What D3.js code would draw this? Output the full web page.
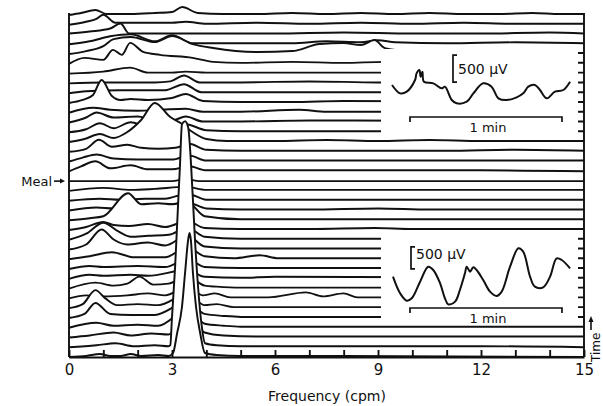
<!DOCTYPE html>
<html lang="en">
  <head>
    <meta charset="UTF-8" />
    <title>Running spectra of gastric myoelectrical activity</title>
    <script src="https://d3js.org/d3.v7.min.js"></script>
    <style>
      html,
      body {
        margin: 0;
        padding: 0;
        background: #fff;
      }
      svg {
        display: block;
      }
      text {
        font-family: "DejaVu Sans", sans-serif;
        fill: #111;
      }
    </style>
  </head>
  <body>
    <div id="viz"></div>
    <script>
      // one spectrum per minute, back (top) to front (bottom): [frequency cpm, power]
      const spectra = [
        [[0,0],[0.35,2],[0.77,5],[1.1,1],[1.8,1],[2.5,2],[3.0,3],[3.3,8],[3.75,2],[4.5,1],[5.5,1],[6.5,2],[7.5,1],[8.5,2],[9.5,1],[10.5,2],[11.5,1],[12.5,1],[13.5,2],[14.3,1],[15,1]],
        [[0,0],[0.5,3],[0.8,6],[1.0,10],[1.35,2],[2.2,2],[3.0,2],[3.4,3],[4,1],[5.5,2],[7,1],[8.5,2],[10,1],[11.5,2],[13,1],[15,1]],
        [[0,1],[0.6,3],[1.2,6],[1.5,11],[1.75,1],[2.3,1],[3,1],[4,1],[6,1],[8,2],[10,1],[12,1],[14,2],[15,1]],
        [[0,0],[0.6,3],[1.2,8],[1.8,10],[2.5,3],[3.0,9],[3.6,1],[5,1],[6.5,1],[7.5,3],[8.5,2],[9,4],[9.5,2],[11,1],[13,2],[15,1]],
        [[0,0],[0.5,3],[1.0,8],[1.3,15],[1.8,17],[2.5,12],[3.0,18],[3.6,10],[4.2,6],[5.5,2],[6.5,3],[7.3,10],[8.0,11],[8.5,9],[8.9,14],[9.2,6],[10,3],[12,2],[15,1]],
        [[0,0],[0.45,6],[1.0,4],[1.28,14],[1.54,9],[1.78,21],[2.16,12],[2.65,9],[3.6,6],[4.2,2],[5,1],[6.5,2],[8,1],[9.2,2],[15,1]],
        [[0,0],[1.0,2],[1.78,6],[2.3,1],[3,1],[3.4,2],[4,1],[6,1],[8,1],[15,1]],
        [[0,0],[1.0,1],[2.5,1],[2.95,2],[3.35,8],[3.8,1],[5,1],[7,2],[9,1],[15,1]],
        [[0,0],[0.5,2],[1.5,3],[2.8,3],[3.35,9],[3.85,1],[5,1],[7,1],[9,1],[15,1]],
        [[0,0],[0.4,3],[0.7,8],[0.95,23],[1.25,7],[1.5,3],[1.8,4],[2.3,3],[3.0,5],[3.4,9],[3.9,2],[5,1],[6.5,1],[8,2],[15,1]],
        [[0,0],[0.7,5],[1.2,3],[2,2],[2.7,3],[3.4,4],[3.9,1],[5,1],[6.7,3],[7.5,1],[15,1]],
        [[0,0],[0.5,5],[0.8,10],[1.3,5],[2.0,6],[2.4,3],[3.0,2],[3.4,6],[3.9,1],[5,1],[7,2],[15,1]],
        [[0,0],[0.5,3],[0.9,9],[1.3,4],[1.8,10],[2.2,6],[2.8,4],[3.4,8],[4,2],[5,1],[7,1],[15,1]],
        [[0,0],[0.45,3],[0.9,8],[1.3,4],[1.7,10],[2.1,22],[2.5,39],[2.95,25],[3.25,19],[3.6,10],[4.0,3],[4.6,1],[6,1],[7.5,2],[9,1],[10.5,2],[12,1],[13.5,1],[15,1]],
        [[0,0],[0.5,3],[0.87,12],[1.25,5],[1.7,7],[2.1,4],[2.6,3],[3.1,4],[3.5,8],[4.0,2],[5,1],[7,1],[9,1],[11,1],[13,2],[15,1]],
        [[0,0],[0.4,4],[0.8,7],[1.3,3],[2,2],[3,2],[3.5,6],[4,1],[6,1],[8,1],[10,1],[12,1],[15,1]],
        [[0,0],[0.35,5],[0.77,10],[1.2,3],[1.8,6],[2.3,2],[3,2],[3.5,5],[4,1],[6,1],[9,1],[12,1],[15,0]],
        [[0,0],[3.0,0],[3.4,2],[3.8,0],[15,0]],
        [[0,0],[1.0,3],[1.8,1],[2.5,2],[3.4,4],[4,1],[6,1],[9,1],[12,1],[15,1]],
        [[0,0],[0.9,2],[1.5,1],[2.2,2],[2.8,2],[3.45,7],[4,1],[6,1],[9,1],[12,1],[15,1]],
        [[0,0],[0.8,3],[1.3,2],[2,3],[2.6,4],[3.45,8],[4,2],[5,1],[7,1],[9,2],[10.5,1],[15,1]],
        [[0,0],[0.6,2],[1.0,4],[1.72,27],[2.1,16],[2.6,17],[3.0,16],[3.45,18],[3.95,4],[5,1],[9,1],[15,1]],
        [[0,0],[0.5,3],[1.0,8],[1.3,5],[1.75,4],[2.3,6],[2.8,3],[3.45,9],[3.95,2],[5,1],[7,1],[8.9,2],[10,1],[15,1]],
        [[0,0],[0.5,6],[1.0,17],[1.45,8],[1.8,3],[2.3,4],[2.9,5],[3.45,12],[3.95,3],[5,1],[7,1],[9,1],[15,1]],
        [[0,0],[0.5,5],[0.95,20],[1.3,10],[1.7,5],[2.3,7],[2.8,4],[3.45,14],[3.95,3],[5,1],[7,1],[9,1],[15,1]],
        [[0,0],[0.6,3],[1.25,7],[1.9,2],[2.8,2],[3.45,12],[3.95,3],[4.8,1],[5.55,4],[6.1,1],[8,1],[15,1]],
        [[0,0],[0.6,3],[1.0,2],[2.0,3],[2.8,2],[3.45,10],[3.95,2],[5,1],[7,1],[15,1]],
        [[0,0],[0.6,4],[1.0,3],[1.8,4],[2.3,3],[3.45,9],[3.95,2],[5,1],[6,2],[15,1]],
        [[0,0],[0.77,6],[1.3,3],[1.7,5],[2.05,12],[2.45,4],[2.9,5],[3.45,12],[3.95,3],[4.3,2],[5,1],[8,1],[15,1]],
        [[0,0],[0.5,3],[1.0,2],[1.7,3],[2.3,5],[2.8,3],[3.45,12],[3.9,3],[4.25,5],[4.7,1],[5.8,1],[6.9,6],[7.4,2],[8.0,5],[8.4,1],[10,1],[15,1]],
        [[0,0],[0.4,4],[0.77,18],[1.05,10],[1.4,3],[2.0,4],[2.6,3],[3.45,14],[3.95,3],[4.3,4],[4.8,1],[6,1],[8,1],[15,1]],
        [[0,0],[0.45,4],[0.77,15],[1.2,4],[1.8,3],[2.5,3],[3.45,16],[3.95,4],[4.5,2],[5,1],[7,1],[15,1]],
        [[0,0],[0.8,5],[1.3,2],[2,3],[2.6,2],[3.45,18],[3.95,4],[4.5,2],[5,1],[7,1],[9,1],[11,1],[13,1],[15,1]],
        [[0,0],[0.6,2],[1.3,5],[1.8,2],[2.4,4],[2.9,3],[3.45,20],[3.95,5],[4.5,2],[5.5,1],[8,1],[11,1],[14,1],[15,1]],
        [[0,0],[0.8,2],[1.35,4],[1.9,1],[2.5,2],[2.9,1],[2.95,2],[3.0,30],[3.09,80],[3.18,145],[3.23,180],[3.29,223],[3.38,226],[3.47,220],[3.61,147],[3.67,107],[3.76,60],[3.87,20],[3.96,4],[4.3,2],[5,1],[7,1],[9,1],[12,1],[15,0]],
        [[0,0],[0.5,1],[0.9,3],[1.2,1],[1.5,1],[1.8,3],[2.1,1],[2.6,2],[2.9,1],[3.03,4],[3.15,24],[3.29,50],[3.38,84],[3.47,117],[3.51,124],[3.55,117],[3.61,84],[3.7,50],[3.82,24],[3.96,4],[4.3,2],[5,1],[8,1],[15,0]]
      ];
      const mealIndex = 17;

      const xLabels = [0, 3, 6, 9, 12, 15];
      const xTickValues = [0, 1, 2, 3, 4, 5, 6, 7, 8, 9, 10, 11, 12, 13, 14, 15];

      // inset recordings: time (s) and voltage (uV)
      const fastingTime = [0, 3.2, 5.8, 9.1, 9.7, 10.8, 11.3, 12.0, 12.6, 16.3, 19.6, 20.9, 23.6, 25.5, 29.5, 32.1, 36.0, 39.3, 42.0, 45.3, 49.2, 51.8, 53.8, 56.4, 58.4, 61.1, 64.3, 67.6, 70.3];
      const fastingVolt = [278, 123, 154, 370, 494, 556, 432, 524, 339, 309, 216, 247, 0, -62, -31, 123, 309, 247, 31, 0, 49, 123, 247, 278, 185, 31, 154, 185, 339];
      const fastingBar = [7.1, 67.1];
      const fastingBracket = [330, 830];

      const fedTime = [0, 2.8, 5.4, 7.4, 10.7, 13.9, 15.9, 18.6, 20.5, 21.8, 24.5, 26.4, 28.4, 29.1, 30.4, 31.7, 33.0, 35.6, 38.3, 40.9, 42.9, 46.2, 49.5, 51.4, 54.1, 56.0, 59.3, 62.0, 64.6, 66.6, 69.9];
      const fedVolt = [303, -75, -242, -189, 189, 530, 455, 152, -189, -326, -265, 0, 379, 530, 417, 515, 455, 227, -38, -136, -38, 530, 947, 871, 303, 76, 61, 303, 720, 682, 492];
      const fedBar = [6.7, 66.7];
      const fedBracket = [480, 980];

      const width = 603;
      const height = 406;
      const ink = "#111";

      const svg = d3
        .select("#viz")
        .append("svg")
        .attr("width", width)
        .attr("height", height);

      const x = d3.scaleLinear().domain([0, 15]).range([69, 584]);
      const base = d3
        .scaleLinear()
        .domain([0, spectra.length - 1])
        .range([15, 357]);
      const power = d3.scaleLinear().domain([0, 100]).range([0, 100]);

      // hidden-line waterfall: draw back to front, each trace masks the ones behind
      const traces = svg.append("g");
      spectra.forEach((pts, i) => {
        const y0 = base(i);
        const area = d3
          .area()
          .x((d) => x(d[0]))
          .y0(y0)
          .y1((d) => y0 - power(d[1]))
          .curve(d3.curveMonotoneX);
        const line = d3
          .line()
          .x((d) => x(d[0]))
          .y((d) => y0 - power(d[1]))
          .curve(d3.curveMonotoneX);
        traces.append("path").datum(pts).attr("d", area).attr("fill", "#fff");
        traces
          .append("path")
          .datum(pts)
          .attr("d", line)
          .attr("fill", "none")
          .attr("stroke", ink)
          .attr("stroke-width", 1.95)
          .attr("stroke-linejoin", "round");
      });

      // frame lines
      svg
        .append("path")
        .attr("d", `M${x(0)},13V357M${x(15)},13V357`)
        .attr("stroke", ink)
        .attr("stroke-width", 1.9)
        .attr("fill", "none");

      const xAxis = d3
        .axisBottom(x)
        .tickValues(xTickValues)
        .tickSizeInner(-7)
        .tickSizeOuter(0)
        .tickPadding(7)
        .tickFormat((d) => (xLabels.includes(d) ? d : ""));

      const gx = svg
        .append("g")
        .attr("transform", "translate(0,357)")
        .call(xAxis);
      gx.selectAll("path, line").attr("stroke", ink).attr("stroke-width", 1.9);
      gx.selectAll("text")
        .style("font-family", '"DejaVu Sans", sans-serif')
        .style("font-size", "15px")
        .attr("fill", ink);

      svg
        .append("text")
        .attr("x", 327)
        .attr("y", 401)
        .attr("text-anchor", "middle")
        .style("font-size", "14px")
        .text("Frequency (cpm)");

      // meal marker
      const yMeal = base(mealIndex);
      svg
        .append("text")
        .attr("x", 52)
        .attr("y", yMeal + 5)
        .attr("text-anchor", "end")
        .style("font-size", "13px")
        .text("Meal");
      svg
        .append("path")
        .attr("d", `M54,${yMeal}H63`)
        .attr("stroke", ink)
        .attr("stroke-width", 1.6);
      svg
        .append("path")
        .attr("d", `M60,${yMeal - 2.5}L65,${yMeal}L60,${yMeal + 2.5}Z`)
        .attr("fill", ink);

      // time arrow
      svg
        .append("text")
        .attr("transform", "translate(600,362) rotate(-90)")
        .style("font-size", "12px")
        .text("Time");
      svg
        .append("path")
        .attr("d", "M591,330V320")
        .attr("stroke", ink)
        .attr("stroke-width", 1.6);
      svg
        .append("path")
        .attr("d", "M588.5,322L591,316L593.5,322Z")
        .attr("fill", ink);

      function drawInset(cfg) {
        const g = svg.append("g");
        g.append("rect")
          .attr("x", 381)
          .attr("y", cfg.top)
          .attr("width", 197)
          .attr("height", cfg.bottom - cfg.top)
          .attr("fill", "#fff");

        const t = d3.scaleLinear().domain([0, 60]).range(cfg.tRange);
        const v = d3.scaleLinear().domain([0, 500]).range(cfg.vRange);

        const wave = d3
          .line()
          .x((d) => t(d[0]))
          .y((d) => v(d[1]))
          .curve(d3.curveCatmullRom);
        g.append("path")
          .datum(d3.zip(cfg.time, cfg.volt))
          .attr("d", wave)
          .attr("fill", "none")
          .attr("stroke", ink)
          .attr("stroke-width", 2)
          .attr("stroke-linejoin", "round");

        const bx = cfg.bracketX;
        const b0 = v(cfg.bracket[0]);
        const b1 = v(cfg.bracket[1]);
        g.append("path")
          .attr("d", `M${bx + 4},${b1}H${bx}V${b0}H${bx + 4}`)
          .attr("fill", "none")
          .attr("stroke", ink)
          .attr("stroke-width", 1.7);
        g.append("text")
          .attr("x", bx + 5)
          .attr("y", cfg.labelY)
          .style("font-size", "14px")
          .text("500 \u03bcV");

        const x1 = t(cfg.bar[0]);
        const x2 = t(cfg.bar[1]);
        g.append("path")
          .attr("d", `M${x1},${cfg.barY + 5}V${cfg.barY}H${x2}V${cfg.barY + 5}`)
          .attr("fill", "none")
          .attr("stroke", ink)
          .attr("stroke-width", 1.7);
        g.append("text")
          .attr("x", (x1 + x2) / 2 + 2)
          .attr("y", cfg.barY + 15)
          .attr("text-anchor", "middle")
          .style("font-size", "13px")
          .text("1 min");
      }

      drawInset({
        top: 49,
        bottom: 137,
        time: fastingTime,
        volt: fastingVolt,
        tRange: [392, 544],
        vRange: [100, 73],
        bracket: fastingBracket,
        bracketX: 453,
        labelY: 74,
        bar: fastingBar,
        barY: 117
      });

      drawInset({
        top: 234,
        bottom: 323,
        time: fedTime,
        volt: fedVolt,
        tRange: [393, 545],
        vRange: [290, 268],
        bracket: fedBracket,
        bracketX: 411,
        labelY: 259,
        bar: fedBar,
        barY: 308
      });
    </script>
  </body>
</html>
